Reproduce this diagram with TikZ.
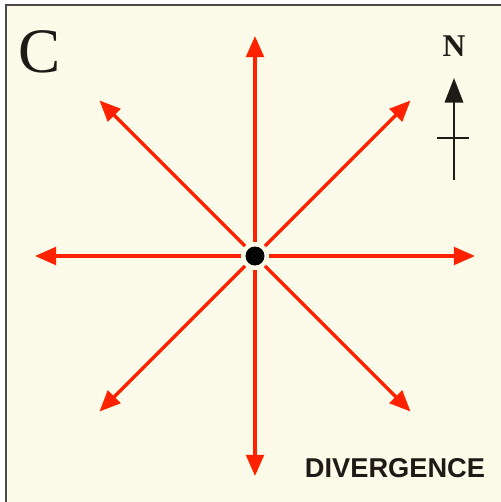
\documentclass[tikz,border=0pt]{standalone}
\usepackage{fontspec}
\newfontfamily\labelfont{Liberation Sans}
\newfontfamily\letterfont{Liberation Serif}
\usetikzlibrary{arrows.meta,positioning}
\definecolor{paper}{HTML}{FCFAE8}
\definecolor{flow}{HTML}{FF2200}
\definecolor{ink}{HTML}{1E1A16}
\begin{document}
\begin{tikzpicture}[
    flowarrow/.style={draw=flow, line width=2pt, -{Triangle[length=12pt,width=10pt]}},
    centre/.style={circle, fill=black, inner sep=0pt, minimum size=0.38cm},
    panel/.style={font=\letterfont\fontsize{36}{36}\selectfont, text=ink, inner sep=0pt},
    title/.style={font=\labelfont\bfseries\fontsize{15.5}{16}\selectfont, text=ink, inner sep=0pt}
]
\useasboundingbox (-5.1,-4.92) rectangle (4.92,5.12);
\begin{scope}
\clip (-5.1,-4.92) rectangle (4.92,5.12);
\draw[ink!80, line width=1.5pt, fill=paper] (-4.98,-5.2) rectangle (5.2,5.02);
\end{scope}
% radial outflow
\node[centre] (ctr) at (0,0) {};
\foreach \ang in {0,45,...,315} {
    \coordinate (base\ang) at (\ang:0.28);
    \coordinate (tip\ang) at (\ang:4.4);
    \draw[flowarrow] (base\ang) -- (tip\ang);
}
% north arrow
\coordinate (ntop) at (3.98,3.56);
\coordinate (nbot) at (3.98,1.52);
\coordinate (barl) at (3.64,2.36);
\coordinate (barr) at (4.28,2.36);
\draw[ink, line width=1.2pt] (barl) -- (barr);
\draw[ink, line width=1.2pt, -{Triangle[length=14pt,width=10.5pt]}] (nbot) -- (ntop);
\node[font=\letterfont\bfseries\fontsize{18}{18}\selectfont, text=ink] (north) at (3.98,4.2) {N};
\node[panel] (letter) at (-4.3,4.08) {C};
\node[title] (name) at (2.8,-4.24) {DIVERGENCE};
\end{tikzpicture}
\end{document}
